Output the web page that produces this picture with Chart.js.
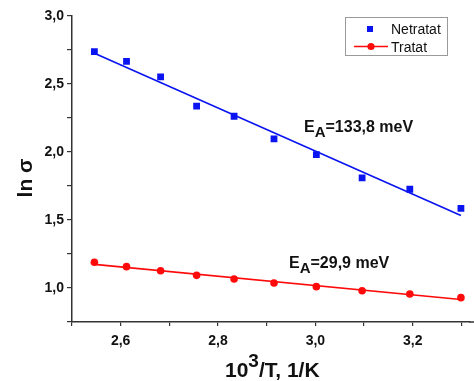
<!DOCTYPE html>
<html>
<head>
<meta charset="utf-8">
<script src="https://cdn.jsdelivr.net/npm/chart.js@4.4.1/dist/chart.umd.min.js"></script>
<style>
  html, body { margin: 0; padding: 0; background: #ffffff; }
  #wrap { width: 474px; height: 381px; position: relative; }
</style>
</head>
<body>
<div id="wrap"><canvas id="c" width="474" height="381"></canvas></div>
<script>
// ---- data ----
const invT = [2.546, 2.612, 2.682, 2.756, 2.833, 2.915, 3.002, 3.096, 3.194, 3.299];
const netratat = [2.738, 2.667, 2.552, 2.338, 2.263, 2.096, 1.980, 1.809, 1.726, 1.586];
const tratat = [1.189, 1.157, 1.127, 1.093, 1.066, 1.037, 1.010, 0.980, 0.956, 0.929];
const seriesNames = ['Netratat', 'Tratat'];
const energyLabels = ['133,8 meV', '29,9 meV'];
const xTickValues = [2.5, 2.6, 2.7, 2.8, 2.9, 3.0, 3.1, 3.2, 3.3];
const xTickLabels = ['', '2,6', '', '2,8', '', '3,0', '', '3,2', ''];
const yTickValues = [0.75, 1.0, 1.25, 1.5, 1.75, 2.0, 2.25, 2.5, 2.75, 3.0];
const yTickLabels = ['', '1,0', '', '1,5', '', '2,0', '', '2,5', '', '3,0'];

function linFit(xv, yv) {
  const n = xv.length;
  let sx = 0, sy = 0, sxx = 0, sxy = 0;
  for (let i = 0; i < n; i++) { sx += xv[i]; sy += yv[i]; sxx += xv[i]*xv[i]; sxy += xv[i]*yv[i]; }
  const b = (n*sxy - sx*sy) / (n*sxx - sx*sx);
  const a = (sy - b*sx) / n;
  const x0 = xv[0], x1 = xv[n-1];
  return [{x: x0, y: a + b*x0}, {x: x1, y: a + b*x1}];
}

const pts = (ys) => invT.map((x, i) => ({x: x, y: ys[i]}));
const BLUE = '#0a14f0';
const RED = '#ff0a0a';
const FONT = '"Liberation Sans", Arial, sans-serif';

const overlay = {
  id: 'overlay',
  afterDraw(chart) {
    const ctx = chart.ctx;
    const ca = chart.chartArea;
    ctx.save();
    // extend bottom axis line to the canvas edge
    ctx.strokeStyle = '#333';
    ctx.lineWidth = 1.5;
    ctx.beginPath(); ctx.moveTo(ca.right, ca.bottom); ctx.lineTo(474, ca.bottom); ctx.stroke();

    // legend box
    ctx.fillStyle = '#ffffff';
    ctx.fillRect(345, 17, 102, 38);
    ctx.strokeStyle = '#9a9a9a';
    ctx.lineWidth = 1;
    ctx.strokeRect(345.5, 17.5, 102, 38);
    ctx.fillStyle = BLUE;
    ctx.fillRect(367, 26, 6, 6);
    ctx.strokeStyle = RED;
    ctx.lineWidth = 1.5;
    ctx.beginPath(); ctx.moveTo(354, 46.5); ctx.lineTo(388, 46.5); ctx.stroke();
    ctx.fillStyle = RED;
    ctx.beginPath(); ctx.arc(371, 46.5, 3.6, 0, Math.PI*2); ctx.fill();
    ctx.fillStyle = '#111';
    ctx.font = '14px ' + FONT;
    ctx.textBaseline = 'alphabetic';
    ctx.textAlign = 'left';
    ctx.fillText(seriesNames[0], 391, 34);
    ctx.fillText(seriesNames[1], 391, 52);

    // energy annotations
    function ea(x, y, txt) {
      ctx.fillStyle = '#111';
      ctx.font = 'bold 16px ' + FONT;
      ctx.fillText('E', x, y);
      let w = ctx.measureText('E').width;
      ctx.font = 'bold 15px ' + FONT;
      ctx.fillText('A', x + w, y + 5);
      w += ctx.measureText('A').width;
      ctx.font = 'bold 16px ' + FONT;
      ctx.fillText('=' + txt, x + w, y);
    }
    ea(304, 132, energyLabels[0]);
    ea(289, 268, energyLabels[1]);

    // x axis title
    ctx.font = 'bold 21px ' + FONT;
    ctx.fillStyle = '#111';
    let x0 = 225, yb = 377;
    ctx.fillText('10', x0, yb);
    let w = ctx.measureText('10').width;
    ctx.font = 'bold 19px ' + FONT;
    ctx.fillText('3', x0 + w, yb - 10);
    w += ctx.measureText('3').width;
    ctx.font = 'bold 21px ' + FONT;
    ctx.fillText('/T, 1/K', x0 + w, yb);

    // y axis title
    ctx.translate(32, 178);
    ctx.rotate(-Math.PI/2);
    ctx.textAlign = 'center';
    ctx.font = 'bold 21px ' + FONT;
    ctx.fillText('ln \u03c3', 0, 0);
    ctx.restore();
  }
};

new Chart(document.getElementById('c'), {
  type: 'scatter',
  data: {
    datasets: [
      { label: seriesNames[0], data: pts(netratat), pointStyle: 'rect', pointRadius: 4.8,
        backgroundColor: BLUE, borderColor: BLUE, borderWidth: 0, showLine: false, order: 1 },
      { label: 'fit1', data: linFit(invT, netratat), showLine: true, pointRadius: 0,
        borderColor: BLUE, borderWidth: 1.6, order: 2 },
      { label: 'fit2', data: linFit(invT, tratat), showLine: true, pointRadius: 0,
        borderColor: RED, borderWidth: 1.6, order: 2 },
      { label: seriesNames[1], data: pts(tratat), pointStyle: 'circle', pointRadius: 3.8,
        backgroundColor: RED, borderColor: RED, borderWidth: 0, showLine: false, order: 1 }
    ]
  },
  options: {
    responsive: false,
    animation: false,
    layout: { padding: { top: 16, right: 0, left: 0, bottom: 0 } },
    plugins: { legend: { display: false }, tooltip: { enabled: false } },
    scales: {
      x: {
        type: 'linear', min: 2.5, max: 3.316,
        afterBuildTicks: (s) => { s.ticks = xTickValues.map(v => ({value: v})); },
        afterFit: (s) => { s.height = 59; },
        grid: { drawOnChartArea: false, drawTicks: true, tickLength: 4, color: '#333', lineWidth: 1.2 },
        border: { display: true, color: '#333', width: 1.5 },
        ticks: {
          padding: 7, color: '#111', maxRotation: 0, autoSkip: false,
          font: { family: FONT, size: 14, weight: 'bold' },
          callback: (v, i) => xTickLabels[i]
        }
      },
      y: {
        type: 'linear', min: 0.75, max: 3.0,
        afterBuildTicks: (s) => { s.ticks = yTickValues.map(v => ({value: v})); },
        afterFit: (s) => { s.width = 72; },
        grid: { drawOnChartArea: false, drawTicks: true, tickLength: 5, color: '#333', lineWidth: 1.2 },
        border: { display: true, color: '#333', width: 1.5 },
        ticks: {
          padding: 3, color: '#111', autoSkip: false,
          font: { family: FONT, size: 14, weight: 'bold' },
          callback: (v, i) => yTickLabels[i]
        }
      }
    }
  },
  plugins: [overlay]
});
</script>
</body>
</html>
